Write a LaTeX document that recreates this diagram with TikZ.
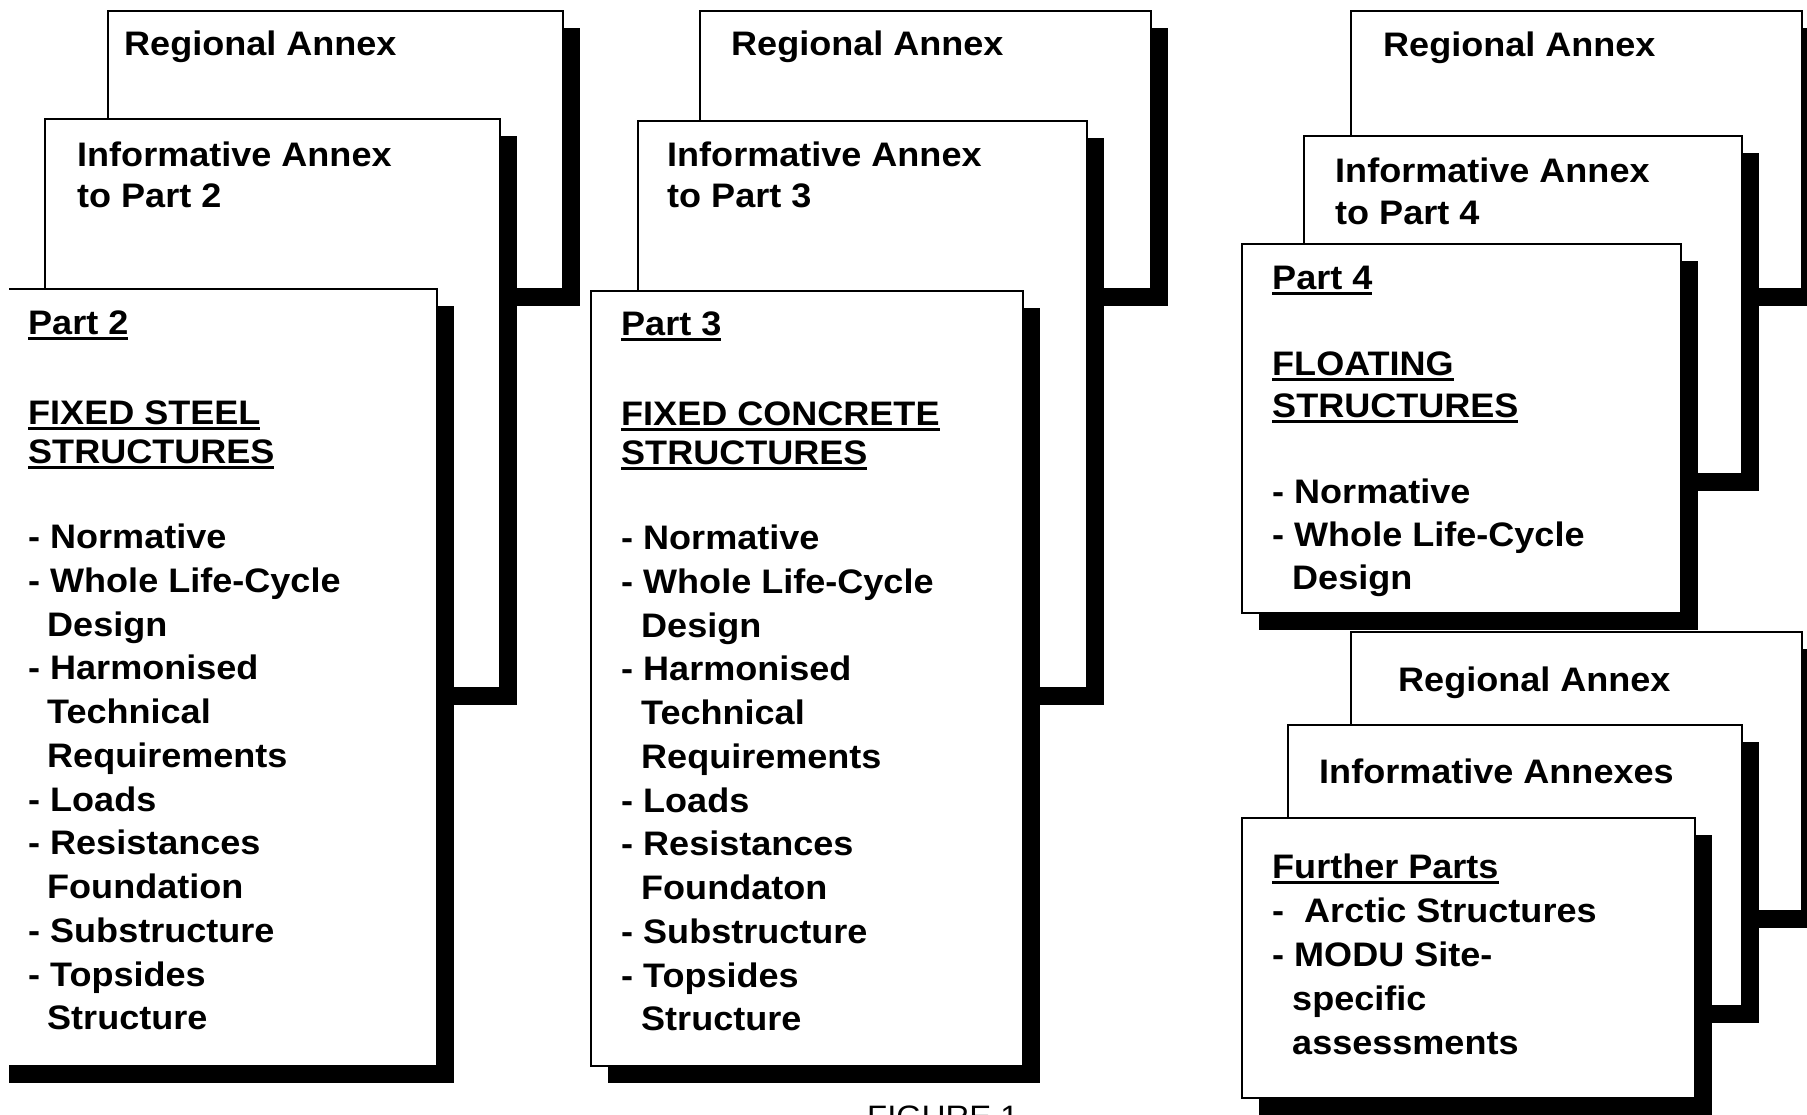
\documentclass[tikz,border=0pt]{standalone}
\usepackage{fontspec}
\setmainfont{Liberation Sans}[FakeStretch=1.06]
\newcommand\myul[1]{\setbox0\hbox{#1}\rlap{\rule[-6pt]{\wd0}{3pt}}\box0}
\newcommand\txtline[4]{\node[txt] (#1) at (#2,#3) {#4};}
\newcommand\docbox[4]{%
  \fill[shadowfill,shift={(17,17)}] (#1,#2) rectangle (#3,#4);
  \draw[box] (#1,#2) rectangle (#3,#4);}
\tikzset{
  box/.style={draw=black,line width=2.8pt,fill=white},
  shadowfill/.style={fill=black},
  txt/.style={anchor=base west,inner sep=0pt,font=\bfseries\fontsize{34}{40}\selectfont},
  captxt/.style={anchor=base west,inner sep=0pt,font=\fontsize{31}{36}\selectfont}
}
\begin{document}
\begin{tikzpicture}[x=1pt,y=-1pt]
\useasboundingbox[fill=white] (0,0) rectangle (1807,1114);

% ---------------- column 1 ----------------
\docbox{108}{11}{563}{289}
\txtline{ra1}{124}{55}{Regional Annex}
\docbox{45}{119}{500}{688}
\txtline{ia1a}{77}{166}{Informative Annex}
\txtline{ia1b}{77}{207}{to Part 2}
\fill[shadowfill,shift={(17,17)}] (-8,289) rectangle (437,1066);
\fill[white] (9,289) rectangle (437,1066);
\draw[line width=2.8pt] (9,289) -- (437,289) -- (437,1066) -- (9,1066);
\txtline{p2}{28}{334}{\myul{Part 2}}
\txtline{p2h1}{28}{424}{\myul{FIXED STEEL}}
\txtline{p2h2}{28}{463}{\myul{STRUCTURES}}
\txtline{p2l1}{28}{548}{- Normative}
\txtline{p2l2}{28}{592}{- Whole Life-Cycle}
\txtline{p2l3}{47}{636}{Design}
\txtline{p2l4}{28}{679}{- Harmonised}
\txtline{p2l5}{47}{723}{Technical}
\txtline{p2l6}{47}{767}{Requirements}
\txtline{p2l7}{28}{811}{- Loads}
\txtline{p2l8}{28}{854}{- Resistances}
\txtline{p2l9}{47}{898}{Foundation}
\txtline{p2l10}{28}{942}{- Substructure}
\txtline{p2l11}{28}{986}{- Topsides}
\txtline{p2l12}{47}{1029}{Structure}

% ---------------- column 2 ----------------
\docbox{700}{11}{1151}{289}
\txtline{ra2}{731}{55}{Regional Annex}
\docbox{638}{121}{1087}{688}
\txtline{ia2a}{667}{166}{Informative Annex}
\txtline{ia2b}{667}{207}{to Part 3}
\docbox{591}{291}{1023}{1066}
\txtline{p3}{621}{335}{\myul{Part 3}}
\txtline{p3h1}{621}{425}{\myul{FIXED CONCRETE}}
\txtline{p3h2}{621}{464}{\myul{STRUCTURES}}
\txtline{p3l1}{621}{549}{- Normative}
\txtline{p3l2}{621}{593}{- Whole Life-Cycle}
\txtline{p3l3}{641}{637}{Design}
\txtline{p3l4}{621}{680}{- Harmonised}
\txtline{p3l5}{641}{724}{Technical}
\txtline{p3l6}{641}{768}{Requirements}
\txtline{p3l7}{621}{812}{- Loads}
\txtline{p3l8}{621}{855}{- Resistances}
\txtline{p3l9}{641}{899}{Foundaton}
\txtline{p3l10}{621}{943}{- Substructure}
\txtline{p3l11}{621}{987}{- Topsides}
\txtline{p3l12}{641}{1030}{Structure}

% ---------------- column 3, upper ----------------
\docbox{1351}{11}{1802}{289}
\txtline{ra3}{1383}{56}{Regional Annex}
\docbox{1304}{136}{1742}{474}
\txtline{ia3a}{1335}{182}{Informative Annex}
\txtline{ia3b}{1335}{224}{to Part 4}
\docbox{1242}{244}{1681}{613}
\txtline{p4}{1272}{289}{\myul{Part 4}}
\txtline{p4h1}{1272}{375}{\myul{FLOATING}}
\txtline{p4h2}{1272}{417}{\myul{STRUCTURES}}
\txtline{p4l1}{1272}{503}{- Normative}
\txtline{p4l2}{1272}{546}{- Whole Life-Cycle}
\txtline{p4l3}{1292}{589}{Design}

% ---------------- column 3, lower ----------------
\docbox{1351}{632}{1802}{911}
\txtline{ra4}{1398}{691}{Regional Annex}
\docbox{1288}{725}{1742}{1006}
\txtline{ia4}{1319}{783}{Informative Annexes}
\docbox{1242}{818}{1695}{1098}
\txtline{fp}{1272}{878}{\myul{Further Parts}}
\txtline{fpl1}{1272}{922}{-\ \ Arctic Structures}
\txtline{fpl2}{1272}{966}{- MODU Site-}
\txtline{fpl3}{1292}{1010}{specific}
\txtline{fpl4}{1292}{1054}{assessments}

% caption (cut off at the bottom edge, as in the reference)
\node[captxt] (cap) at (867,1127) {FIGURE 1};
\end{tikzpicture}
\end{document}
